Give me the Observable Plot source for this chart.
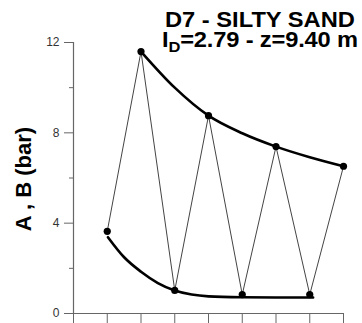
<!DOCTYPE html>
<html>
<head>
<meta charset="utf-8">
<script src="https://cdn.jsdelivr.net/npm/d3@7"></script>
<script src="https://cdn.jsdelivr.net/npm/@observablehq/plot@0.6"></script>
<style>
  html, body { margin: 0; padding: 0; background: #fff; }
  #chart svg { display: block; }
</style>
</head>
<body>
<div id="chart"></div>
<script>
// Measured cycle points (cycle number, value in bar)
const cycles = [1, 2, 3, 4, 5, 6, 7, 8];
const values = [3.64, 11.6, 1.02, 8.76, 0.84, 7.39, 0.84, 6.52];

// Upper envelope (A) fitted curve
const upperX = [2, 3, 4, 5, 6, 7, 8];
const upperY = [11.6, 10.0, 8.76, 7.98, 7.39, 6.92, 6.52];

// Lower envelope (B) fitted curve
const lowerX = [1.02, 1.5, 2, 2.5, 3, 3.5, 4, 5, 6, 7.1];
const lowerY = [3.38, 2.49, 1.85, 1.35, 1.02, 0.84, 0.76, 0.72, 0.71, 0.71];

const yMajor = [0, 4, 8, 12];
const yMinor = [2, 6, 10];
const xTicks = [0, 1, 2, 3, 4, 5, 6, 7, 8];

const title1 = "D7 - SILTY SAND";
const title2a = "I";
const title2sub = "D";
const title2b = "=2.79 - z=9.40 m";
const yLabel = "A , B (bar)";

const pts = cycles.map((c, i) => ({x: c, y: values[i]}));
const upper = upperX.map((x, i) => ({x, y: upperY[i]}));
const lower = lowerX.map((x, i) => ({x, y: lowerY[i]}));

const axisColor = "#666";

const chart = Plot.plot({
  width: 362,
  height: 323,
  marginLeft: 73,
  marginRight: 19,
  marginTop: 42,
  marginBottom: 10,
  style: {fontFamily: "Liberation Sans, Arial, sans-serif", background: "#fff"},
  x: {domain: [0, 8], axis: null},
  y: {domain: [0, 12], axis: null},
  marks: [
    Plot.ruleX([0], {y1: 0, y2: 12, stroke: axisColor, strokeWidth: 1.2}),
    Plot.ruleY([0], {x1: 0, x2: 8, stroke: axisColor, strokeWidth: 1.2}),
    Plot.axisY({ticks: yMajor, tickSize: 9, tickPadding: 5, stroke: axisColor, fill: "#333", fontSize: 12, label: null}),
    Plot.axisY({ticks: yMinor, tickSize: 4, tickFormat: () => "", stroke: axisColor, label: null}),
    Plot.axisX({ticks: xTicks, tickSize: 10, tickFormat: () => "", stroke: axisColor, label: null}),
    Plot.line(pts, {x: "x", y: "y", stroke: "#444", strokeWidth: 1}),
    Plot.line(upper, {x: "x", y: "y", stroke: "#000", strokeWidth: 2.6, curve: "monotone-x"}),
    Plot.line(lower, {x: "x", y: "y", stroke: "#000", strokeWidth: 2.6, curve: "monotone-x"}),
    Plot.dot(pts, {x: "x", y: "y", r: 3.6, fill: "#000"})
  ]
});

document.getElementById("chart").appendChild(chart);

const svg = d3.select(chart);
// Title: one text element, two lines, horizontally stretched like the reference
const g = svg.append("g");
const t = g.append("text")
  .attr("text-anchor", "start")
  .attr("font-family", "Liberation Sans, Arial, sans-serif")
  .attr("font-weight", "bold").attr("font-size", 21.5).attr("fill", "#000");
const s1 = t.append("tspan").attr("y", 27).text(title1);
const s2a = t.append("tspan").attr("y", 47.5).text(title2a);
const s2b = t.append("tspan").attr("font-size", 15).attr("dy", 5).text(title2sub);
const s2c = t.append("tspan").attr("dy", -5).text(title2b);
const w1 = s1.node().getComputedTextLength();
const sx = (355 - 165) / w1;
const w2 = s2a.node().getComputedTextLength() + s2b.node().getComputedTextLength() + s2c.node().getComputedTextLength();
const nChars = (title2a + title2sub + title2b).length;
const ls = ((358 - 162) / sx - w2) / nChars;
s2a.attr("letter-spacing", ls);
s2b.attr("letter-spacing", ls);
s2c.attr("letter-spacing", ls);
s1.attr("x", 165 / sx);
s2a.attr("x", 162 / sx);
g.attr("transform", `scale(${sx},1)`);

svg.append("text")
  .attr("transform", "translate(31,179) rotate(-90)")
  .attr("text-anchor", "middle")
  .attr("font-family", "Liberation Sans, Arial, sans-serif")
  .attr("font-weight", "bold").attr("font-size", 22).attr("fill", "#000")
  .text(yLabel);
</script>
</body>
</html>
